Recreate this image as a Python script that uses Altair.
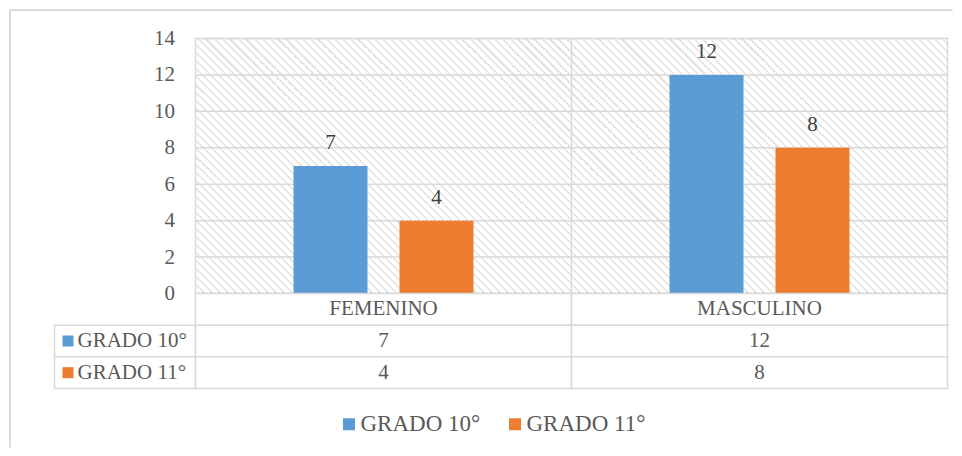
import altair as alt
import pandas as pd

# ---------------- data ----------------
categories = ["FEMENINO", "MASCULINO"]
series = ["GRADO 10°", "GRADO 11°"]
grado10 = [7, 12]
grado11 = [4, 8]
y_ticks = [0, 2, 4, 6, 8, 10, 12, 14]
colors = ["#5B9BD5", "#ED7D31"]

# ---------------- style ----------------
FONT = "Liberation Serif"
TEXT = "#595959"
LABEL = "#404040"
GRID = "#d9d9d9"
HATCH = "#e2e2e2"
HDR = " "
rows = [HDR] + series

bars_df = pd.DataFrame({
    "categoria": categories * 2,
    "serie": [series[0]] * len(categories) + [series[1]] * len(categories),
    "valor": grado10 + grado11,
})

tbl_records = [{"categoria": c, "fila": HDR, "texto": c} for c in categories]
for s, vals in zip(series, [grado10, grado11]):
    for c, v in zip(categories, vals):
        tbl_records.append({"categoria": c, "fila": s, "texto": str(v)})
table_df = pd.DataFrame(tbl_records)

# ---------------- hatch gradient (diagonal stripes) ----------------
W, H = 752, 255
r = H / W
s_len = (1 + r) / (1 + r * r)
L = (W + H) / 2 ** 0.5
P = 8 / 2 ** 0.5
wl = 1.7
stops = []
k = 0
while k * P < L:
    a = k * P / L
    b = min((k * P + wl) / L, 1.0)
    stops += [
        {"offset": a, "color": "#ffffff"},
        {"offset": a, "color": HATCH},
        {"offset": b, "color": HATCH},
        {"offset": b, "color": "#ffffff"},
    ]
    k += 1
grad = {"gradient": "linear", "x1": 0, "y1": 1, "x2": s_len, "y2": 1 - s_len * r, "stops": stops}

# ---------------- scales ----------------
x_scale = alt.Scale(domain=categories, paddingInner=0, paddingOuter=0)
off_scale = alt.Scale(domain=series, paddingInner=0.302, paddingOuter=0.925)
y_scale = alt.Scale(domain=[0, 14], nice=False, zero=True)
color_scale = alt.Scale(domain=series, range=colors)
row_scale = alt.Scale(domain=rows, paddingInner=0, paddingOuter=0)

y_axis = alt.Axis(values=y_ticks, title=None, grid=False, ticks=False, domain=False,
                  labelFont=FONT, labelFontSize=21, labelColor=TEXT, labelPadding=21)

# ---------------- bar panel ----------------
hatch = alt.Chart(alt.Data(values=[{}])).mark_rect(
    fill=grad, stroke=GRID, strokeWidth=1.5
).encode(x=alt.value(0), x2=alt.value("width"), y=alt.value(0), y2=alt.value("height"))

grid_h = alt.Chart(alt.Data(values=[{"valor": v} for v in y_ticks])).mark_rule(
    color=GRID, strokeWidth=1.5
).encode(y=alt.Y("valor:Q", scale=y_scale, axis=y_axis))

divider = alt.Chart(alt.Data(values=[{"categoria": c} for c in categories[1:]])).mark_rule(
    color=GRID, strokeWidth=1.5
).encode(x=alt.X("categoria:N", scale=x_scale, axis=None, bandPosition=0))

bars = alt.Chart(bars_df).mark_bar().encode(
    x=alt.X("categoria:N", scale=x_scale, axis=None),
    xOffset=alt.XOffset("serie:N", scale=off_scale),
    y=alt.Y("valor:Q", scale=y_scale, axis=y_axis),
    color=alt.Color("serie:N", scale=color_scale, legend=alt.Legend(
        orient="none", legendX=142, legendY=374, direction="horizontal", columns=2,
        title=None, symbolType="square", symbolSize=144, symbolStrokeWidth=0,
        labelFont=FONT, labelFontSize=23, labelColor=TEXT, columnPadding=23,
        labelOffset=0, padding=0)),
)

labels = alt.Chart(bars_df).mark_text(
    dy=-23, baseline="middle", font=FONT, fontSize=21, color=LABEL
).encode(
    x=alt.X("categoria:N", scale=x_scale, axis=None),
    xOffset=alt.XOffset("serie:N", scale=off_scale),
    y=alt.Y("valor:Q", scale=y_scale, axis=y_axis),
    text=alt.Text("valor:Q"),
)

bar_panel = alt.layer(hatch, grid_h, divider, bars, labels).properties(width=752, height=255)

# ---------------- data table ----------------
cells = alt.Chart(table_df).mark_rect(fill="white", stroke=GRID, strokeWidth=1.5).encode(
    x=alt.X("categoria:N", scale=x_scale, axis=None),
    y=alt.Y("fila:N", scale=row_scale, axis=None),
)
cell_text = alt.Chart(table_df).mark_text(font=FONT, fontSize=21, color=TEXT).encode(
    x=alt.X("categoria:N", scale=x_scale, axis=None),
    y=alt.Y("fila:N", scale=row_scale, axis=None),
    text="texto:N",
)
table_panel = alt.layer(cells, cell_text).properties(width=752, height=95)

lab_df = pd.DataFrame({"fila": series})
row_cells = alt.Chart(lab_df).mark_rect(fill="white", stroke=GRID, strokeWidth=1.5).encode(
    x=alt.value(0), x2=alt.value("width"),
    y=alt.Y("fila:N", scale=row_scale, axis=None),
)
row_keys = alt.Chart(lab_df).mark_point(shape="square", filled=True, size=121, opacity=1).encode(
    x=alt.value(13.5),
    y=alt.Y("fila:N", scale=row_scale, axis=None),
    color=alt.Color("fila:N", scale=color_scale, legend=None),
)
row_text = alt.Chart(lab_df).mark_text(align="left", font=FONT, fontSize=21, color=TEXT).encode(
    x=alt.value(23),
    y=alt.Y("fila:N", scale=row_scale, axis=None),
    text="fila:N",
)
left_panel = alt.layer(row_cells, row_keys, row_text).properties(width=141, height=95)

# top-left cell: carries the outer chart frame (left and top edges)
frame_left = alt.Chart(alt.Data(values=[{}])).mark_rule(color=GRID, strokeWidth=2).encode(
    x=alt.value(-44.5), y=alt.value(-28.5), y2=alt.value(409)
)
frame_top = alt.Chart(alt.Data(values=[{}])).mark_rule(color=GRID, strokeWidth=2).encode(
    x=alt.value(-44.5), x2=alt.value(898), y=alt.value(-28.5)
)
blank = alt.layer(frame_left, frame_top).properties(width=141, height=255)

chart = alt.concat(
    blank, bar_panel, left_panel, table_panel, columns=2, spacing=0, bounds="flush"
).resolve_scale(color="independent").properties(
    padding={"left": 0.5, "top": 0.5, "right": 0, "bottom": 0},
    background="white",
).configure(font=FONT).configure_view(strokeWidth=0).configure_text(
    font=FONT
).configure_axis(labelFont=FONT, labelFontSize=21, labelColor=TEXT).configure_legend(
    labelFont=FONT
)

chart.save("out.html", embed_options={"renderer": "svg", "actions": False})
